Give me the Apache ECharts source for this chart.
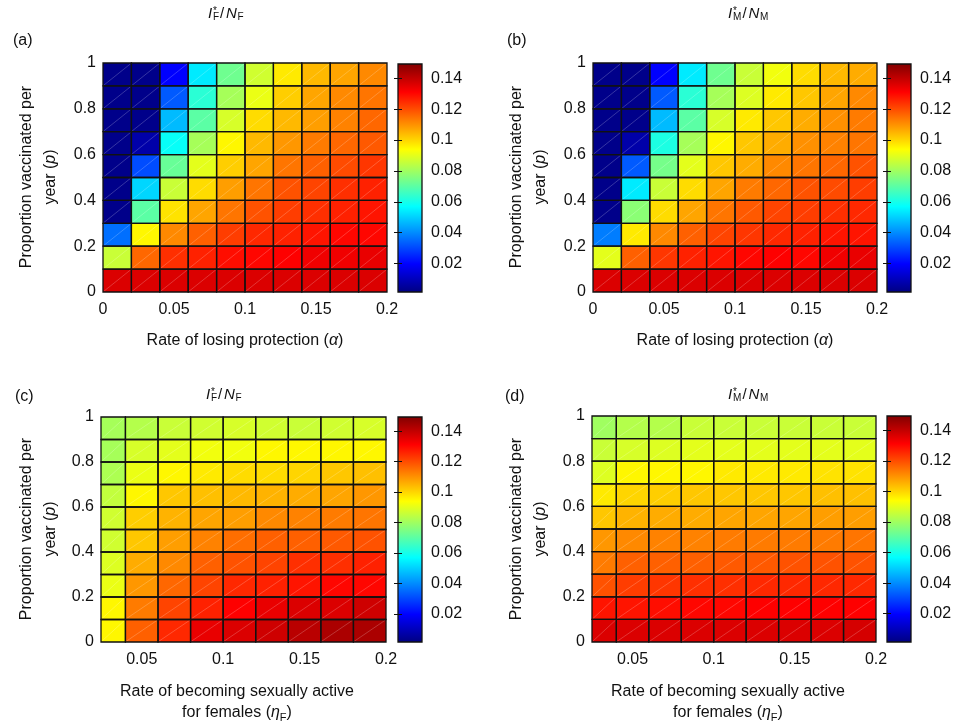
<!DOCTYPE html>
<html><head><meta charset="utf-8">
<script src="https://cdn.jsdelivr.net/npm/echarts@6/dist/echarts.min.js"></script>
<style>html,body{margin:0;padding:0;background:#fff}#c{width:964px;height:726px}</style>
</head><body><div id="c"></div>
<script>
// ---------------- data ----------------
const yEdges = [0, 0.1, 0.2, 0.3, 0.4, 0.5, 0.6, 0.7, 0.8, 0.9, 1.0];
const alphaEdges = [0, 0.02, 0.04, 0.06, 0.08, 0.10, 0.12, 0.14, 0.16, 0.18, 0.20];
const etaEdges = [0.025, 0.04, 0.06, 0.08, 0.10, 0.12, 0.14, 0.16, 0.18, 0.20];
const xTicksAlpha = [0, 0.05, 0.1, 0.15, 0.2];
const xTicksEta = [0.05, 0.1, 0.15, 0.2];
const yTicks = [0, 0.2, 0.4, 0.6, 0.8, 1];
const cbTicks = [0.02, 0.04, 0.06, 0.08, 0.1, 0.12, 0.14];
const cbRange = [0.0015, 0.1493];

// rows listed from top (p = 0.9–1) to bottom (p = 0–0.1)
const valuesA = [
  [0.003,0.003,0.020,0.054,0.073,0.087,0.097,0.104,0.107,0.111],
  [0.003,0.003,0.033,0.063,0.081,0.091,0.101,0.107,0.111,0.114],
  [0.003,0.003,0.047,0.070,0.088,0.099,0.104,0.108,0.112,0.116],
  [0.003,0.0075,0.058,0.081,0.095,0.104,0.109,0.113,0.116,0.118],
  [0.003,0.031,0.072,0.090,0.101,0.107,0.114,0.117,0.120,0.123],
  [0.003,0.051,0.086,0.099,0.108,0.114,0.119,0.121,0.124,0.126],
  [0.003,0.070,0.098,0.107,0.114,0.119,0.122,0.124,0.126,0.128],
  [0.036,0.095,0.111,0.117,0.122,0.125,0.126,0.128,0.130,0.130],
  [0.086,0.116,0.124,0.126,0.129,0.130,0.131,0.133,0.133,0.134],
  [0.136,0.136,0.136,0.136,0.136,0.136,0.136,0.136,0.136,0.136]
];
const valuesB = [
  [0.003,0.003,0.020,0.054,0.073,0.086,0.092,0.099,0.104,0.106],
  [0.003,0.003,0.033,0.063,0.081,0.089,0.097,0.102,0.107,0.111],
  [0.003,0.003,0.047,0.070,0.088,0.097,0.102,0.106,0.110,0.113],
  [0.003,0.0075,0.061,0.081,0.095,0.102,0.106,0.110,0.112,0.114],
  [0.003,0.033,0.074,0.090,0.102,0.106,0.111,0.114,0.116,0.119],
  [0.003,0.054,0.086,0.099,0.107,0.113,0.116,0.119,0.120,0.122],
  [0.003,0.077,0.099,0.107,0.114,0.118,0.121,0.122,0.124,0.125],
  [0.038,0.097,0.111,0.117,0.121,0.123,0.125,0.126,0.128,0.128],
  [0.090,0.117,0.123,0.126,0.128,0.130,0.131,0.130,0.133,0.134],
  [0.136,0.136,0.136,0.136,0.136,0.136,0.136,0.136,0.136,0.136]
];
const valuesC = [
  [0.081,0.083,0.086,0.087,0.088,0.087,0.086,0.087,0.088],
  [0.081,0.088,0.090,0.092,0.092,0.095,0.095,0.095,0.095],
  [0.082,0.091,0.095,0.097,0.099,0.099,0.100,0.102,0.103],
  [0.085,0.095,0.102,0.103,0.104,0.105,0.106,0.107,0.109],
  [0.087,0.101,0.105,0.107,0.108,0.111,0.112,0.113,0.114],
  [0.087,0.102,0.108,0.112,0.115,0.117,0.117,0.118,0.119],
  [0.089,0.106,0.111,0.117,0.119,0.121,0.124,0.124,0.126],
  [0.091,0.109,0.116,0.121,0.125,0.126,0.128,0.130,0.130],
  [0.095,0.113,0.121,0.126,0.131,0.134,0.136,0.136,0.138],
  [0.095,0.117,0.125,0.134,0.136,0.138,0.141,0.143,0.143]
];
const valuesD = [
  [0.080,0.083,0.083,0.086,0.086,0.086,0.086,0.086,0.086],
  [0.086,0.088,0.089,0.090,0.090,0.090,0.090,0.090,0.090],
  [0.089,0.095,0.095,0.095,0.097,0.097,0.097,0.098,0.098],
  [0.097,0.100,0.101,0.102,0.102,0.102,0.102,0.103,0.103],
  [0.102,0.105,0.106,0.106,0.107,0.107,0.107,0.108,0.108],
  [0.109,0.111,0.112,0.112,0.113,0.113,0.113,0.113,0.114],
  [0.113,0.117,0.117,0.117,0.118,0.118,0.119,0.119,0.119],
  [0.119,0.122,0.123,0.124,0.124,0.125,0.125,0.125,0.125],
  [0.128,0.128,0.129,0.130,0.130,0.131,0.131,0.131,0.131],
  [0.136,0.136,0.136,0.136,0.136,0.136,0.136,0.136,0.137]
];

// ---------------- style ----------------
const FONT = "'Liberation Sans', Arial, Helvetica, sans-serif";
const TXT = '#111';
const jetColors = ['#000080','#0000ff','#0080ff','#00ffff','#80ff80','#ffff00','#ff8000','#ff0000','#800000'];

function cells(xEdges, rows) {
  const out = [];
  const n = rows.length;
  rows.forEach((row, r) => {
    const yi = n - 1 - r;
    row.forEach((v, c) => out.push([xEdges[c], xEdges[c + 1], yEdges[yi], yEdges[yi + 1], v]));
  });
  return out;
}
function box(api) {
  const a = api.coord([api.value(0), api.value(2)]);
  const b = api.coord([api.value(1), api.value(3)]);
  return { x: a[0], y: b[1], width: b[0] - a[0], height: a[1] - b[1] };
}
function renderFill(params, api) {
  const s = box(api);
  return { type: 'group', children: [
    { type: 'rect', shape: s, style: { fill: api.visual('color') } },
    { type: 'line', shape: { x1: s.x + 0.5, y1: s.y + s.height - 0.5, x2: s.x + s.width - 0.5, y2: s.y + 0.5 },
      style: { stroke: 'rgba(255,255,255,0.35)', lineWidth: 0.6 } }
  ] };
}
function renderEdge(params, api) {
  const s = box(api);
  return { type: 'rect', shape: s, style: { fill: 'transparent', stroke: '#111', lineWidth: 1.3 } };
}
function renderBar(params, api) {
  const a = api.coord([0, api.value(0)]);
  const b = api.coord([1, api.value(1)]);
  return { type: 'rect', shape: { x: a[0], y: b[1], width: b[0] - a[0], height: a[1] - b[1] },
    style: { fill: new echarts.graphic.LinearGradient(0, 1, 0, 0,
      jetColors.map((c, i) => ({ offset: i / (jetColors.length - 1), color: c }))), stroke: '#111', lineWidth: 1.3 } };
}
const fmt = v => String(parseFloat(Number(v).toFixed(3)));

const panels = [
  { grid: { left: 103, top: 63, width: 284, height: 229 }, cb: { left: 398, top: 64, width: 24, height: 228 }, xEdges: alphaEdges, xMin: 0, xTicks: xTicksAlpha, vals: valuesA },
  { grid: { left: 593, top: 63, width: 284, height: 229 }, cb: { left: 887, top: 64, width: 24, height: 228 }, xEdges: alphaEdges, xMin: 0, xTicks: xTicksAlpha, vals: valuesB },
  { grid: { left: 101, top: 417, width: 285, height: 225 }, cb: { left: 398, top: 417, width: 24, height: 225 }, xEdges: etaEdges, xMin: 0.025, xTicks: xTicksEta, vals: valuesC },
  { grid: { left: 592, top: 416, width: 284, height: 226 }, cb: { left: 887, top: 416, width: 24, height: 226 }, xEdges: etaEdges, xMin: 0.025, xTicks: xTicksEta, vals: valuesD }
];

const grid = [], xAxis = [], yAxis = [], series = [];
const labelStyle = { fontFamily: FONT, fontSize: 16, color: TXT };
panels.forEach((p, i) => {
  grid.push(Object.assign({ containLabel: false }, p.grid));
  xAxis.push({ type: 'value', gridIndex: i, min: p.xMin, max: 0.2,
    axisLine: { show: false }, splitLine: { show: false },
    axisTick: { show: false, customValues: p.xTicks },
    axisLabel: Object.assign({ margin: 10, customValues: p.xTicks, formatter: fmt }, labelStyle) });
  yAxis.push({ type: 'value', gridIndex: i, min: 0, max: 1,
    axisLine: { show: false }, splitLine: { show: false },
    axisTick: { show: false, customValues: yTicks },
    axisLabel: Object.assign({ margin: 7, customValues: yTicks, formatter: fmt }, labelStyle) });
  const data = cells(p.xEdges, p.vals);
  series.push({ type: 'custom', xAxisIndex: i, yAxisIndex: i, renderItem: renderFill, data: data, z: 2, silent: true });
  series.push({ type: 'custom', xAxisIndex: i, yAxisIndex: i, renderItem: renderEdge, data: data, z: 3, silent: true });
});
panels.forEach((p, i) => {
  const gi = 4 + i;
  grid.push(Object.assign({ containLabel: false }, p.cb));
  xAxis.push({ type: 'value', gridIndex: gi, min: 0, max: 1, show: false });
  yAxis.push({ type: 'value', gridIndex: gi, min: cbRange[0], max: cbRange[1], position: 'right', z: 5,
    axisLine: { show: false }, splitLine: { show: false },
    axisTick: { show: true, inside: true, length: 4, lineStyle: { color: '#111' }, customValues: cbTicks },
    axisLabel: Object.assign({ margin: 9, customValues: cbTicks, formatter: fmt }, labelStyle) });
  series.push({ type: 'custom', xAxisIndex: gi, yAxisIndex: 4 + i, renderItem: renderBar,
    data: [[cbRange[0], cbRange[1]]], z: 2, silent: true });
});
panels.forEach((p, i) => {
  const gi = 4 + i;
  yAxis.push({ type: 'value', gridIndex: gi, min: cbRange[0], max: cbRange[1], position: 'left', z: 5,
    axisLine: { show: false }, splitLine: { show: false },
    axisTick: { show: true, inside: true, length: 4, lineStyle: { color: '#111' }, customValues: cbTicks },
    axisLabel: { show: false } });
});

// ---------------- texts ----------------
function T(x, y, text, extra) {
  return { type: 'text', x: x, y: y, silent: true,
    style: Object.assign({ text: text, fontFamily: FONT, fontSize: 16, fill: TXT, align: 'left', verticalAlign: 'middle' }, extra || {}) };
}
function title(x, y, s) {
  const sw = s === 'F' ? 7 : 9.5;
  const nX = x + 5 + sw + 6;
  return [
    T(x, y, 'I', { fontSize: 15, fontStyle: 'italic' }),
    T(x + 5, y - 3, '*', { fontSize: 10 }),
    T(x + 5, y + 3, s, { fontSize: 10 }),
    T(x + 5 + sw, y, '/', { fontSize: 15 }),
    T(nX, y, 'N', { fontSize: 15, fontStyle: 'italic' }),
    T(nX + 11.5, y + 3, s, { fontSize: 10 })
  ];
}
const richY = { it: { fontStyle: 'italic', fontFamily: FONT, fontSize: 16, fill: TXT, align: 'center' },
  n: { fontFamily: FONT, fontSize: 16, fill: TXT, align: 'center' } };
function yName(x, y) {
  return { type: 'text', x: x, y: y, rotation: Math.PI / 2, silent: true,
    style: { text: '{n|Proportion vaccinated per}\n{n|year (}{it|p}{n|)}', rich: richY, align: 'center', verticalAlign: 'middle',
      fontFamily: FONT, fontSize: 16, fill: TXT, lineHeight: 24 } };
}
function xNameAlpha(x, y) {
  return { type: 'text', x: x, y: y, silent: true,
    style: { text: '{n|Rate of losing protection (}{it|α}{n|)}', rich: richY, align: 'center', verticalAlign: 'middle',
      fontFamily: FONT, fontSize: 16, fill: TXT } };
}
function xNameEta(x, y) {
  return [
    T(x, y, 'Rate of becoming sexually active', { align: 'center' }),
    { type: 'text', x: x, y: y + 21, silent: true,
      style: { text: '{n|for females (}{it|η}{sub|F}{n|)}', align: 'center', verticalAlign: 'middle',
        rich: { n: { fontFamily: FONT, fontSize: 16, fill: TXT, lineHeight: 20 },
          it: { fontFamily: FONT, fontSize: 16, fill: TXT, fontStyle: 'italic', lineHeight: 20 },
          sub: { fontFamily: FONT, fontSize: 11, fill: TXT, lineHeight: 11, verticalAlign: 'bottom' } } } }
  ];
}
const graphic = [].concat(
  [T(13, 41, '(a)'), T(507, 41, '(b)'), T(15, 397, '(c)'), T(505, 397, '(d)')],
  title(208, 14, 'F'), title(728, 14, 'M'), title(206, 395, 'F'), title(728, 395, 'M'),
  [yName(39, 177), yName(529, 177), yName(39, 529), yName(529, 529)],
  [xNameAlpha(245, 341), xNameAlpha(735, 341)],
  xNameEta(237, 692), xNameEta(728, 692)
);

const chart = echarts.init(document.getElementById('c'), null, { renderer: 'canvas' });
chart.setOption({
  animation: false,
  backgroundColor: '#fff',
  grid: grid, xAxis: xAxis, yAxis: yAxis, series: series,
  visualMap: [{ type: 'continuous', show: false, min: cbRange[0], max: cbRange[1], dimension: 4,
    seriesIndex: [0, 2, 4, 6], inRange: { color: jetColors } }],
  graphic: { elements: graphic }
});
</script>
</body></html>
